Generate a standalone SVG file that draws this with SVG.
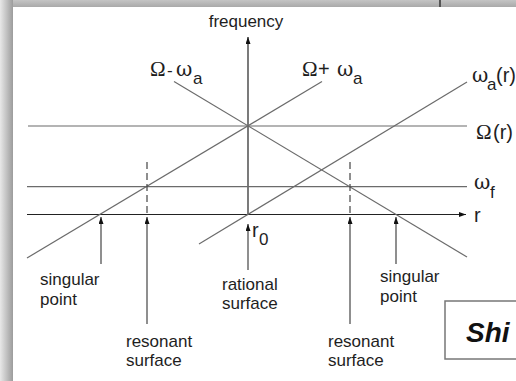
<svg xmlns="http://www.w3.org/2000/svg" width="516" height="381" viewBox="0 0 516 381">
  <defs>
    <linearGradient id="gLeft" x1="0" y1="0" x2="1" y2="0">
      <stop offset="0" stop-color="#e8e8e8"/>
      <stop offset="1" stop-color="#9c9c9c"/>
    </linearGradient>
    <linearGradient id="gTop" x1="0" y1="0" x2="0" y2="1">
      <stop offset="0" stop-color="#c4c4c4"/>
      <stop offset="1" stop-color="#a9a9a9"/>
    </linearGradient>
    <marker id="ah" markerUnits="userSpaceOnUse" markerWidth="8" markerHeight="6" refX="7" refY="2.5" orient="auto">
      <path d="M0,0 L7,2.5 L0,5 z" fill="#111"/>
    </marker>
    <style>
      .ln { stroke: #6b6b6b; stroke-width: 1.2; fill: none; }
      .ax { stroke: #222; stroke-width: 1.2; fill: none; }
      .ds { stroke: #444; stroke-width: 1.2; fill: none; stroke-dasharray: 7 4; }
      .ar { stroke: #333; stroke-width: 1.1; fill: none; marker-end: url(#ah); }
      .t { font-family: "Liberation Sans", Arial, sans-serif; font-size: 17px; fill: #1e1e1e; }
      .G { font-family: "Liberation Serif", "Times New Roman", serif; font-size: 21px; fill: #1e1e1e; }
      .w { font-family: "DejaVu Serif", "Liberation Serif", serif; font-size: 20px; fill: #1e1e1e; }
      .m { font-family: "Liberation Sans", Arial, sans-serif; font-size: 20px; fill: #1e1e1e; }
      .s { font-family: "Liberation Sans", Arial, sans-serif; font-size: 17px; fill: #1e1e1e; }
    </style>
  </defs>

  <!-- page background and frame shadows -->
  <rect x="0" y="0" width="516" height="381" fill="#ffffff"/>
  <rect x="0" y="0" width="516" height="7" fill="url(#gTop)"/>
  <rect x="0" y="0" width="13" height="381" fill="url(#gLeft)"/>
  <line x1="440" y1="0" x2="440" y2="7" stroke="#555" stroke-width="2"/>

  <g id="connectors">
    <!-- frequency axis -->
    <line class="ax" x1="248" y1="214.5" x2="248" y2="37" marker-end="url(#ah)"/>
    <!-- r axis -->
    <line class="ax" x1="27" y1="214.5" x2="466" y2="214.5" marker-end="url(#ah)"/>
    <!-- Omega(r) -->
    <line class="ln" x1="28" y1="126" x2="467" y2="126"/>
    <!-- omega_f -->
    <line class="ln" x1="27" y1="186.7" x2="467" y2="186.7"/>
    <!-- Omega - omega_a -->
    <line class="ln" x1="174" y1="81.5" x2="467" y2="257"/>
    <!-- Omega + omega_a -->
    <line class="ln" x1="322" y1="81.5" x2="27" y2="258"/>
    <!-- omega_a(r) -->
    <line class="ln" x1="199" y1="244" x2="467" y2="82"/>
    <!-- dashed resonances -->
    <line class="ds" x1="147" y1="162" x2="147" y2="214"/>
    <line class="ds" x1="350" y1="162" x2="350" y2="214"/>
    <!-- pointer arrows -->
    <line class="ar" x1="101" y1="264" x2="101" y2="217"/>
    <line class="ar" x1="147" y1="324" x2="147" y2="217"/>
    <line class="ar" x1="248" y1="270" x2="248" y2="224"/>
    <line class="ar" x1="350" y1="324" x2="350" y2="217"/>
    <line class="ar" x1="396" y1="264" x2="396" y2="217"/>
  </g>

  <g id="label-frequency"><text class="t" x="246" y="27" text-anchor="middle">frequency</text></g>

  <g id="label-omega-minus">
    <text x="150" y="76"><tspan class="G">Ω</tspan><tspan class="t" x="167">-</tspan><tspan class="w" x="176">ω</tspan><tspan class="s" x="193" y="84">a</tspan></text>
  </g>
  <g id="label-omega-plus">
    <text x="302" y="76"><tspan class="G">Ω</tspan><tspan class="m" x="318">+</tspan><tspan class="w" x="337">ω</tspan><tspan class="s" x="353" y="84">a</tspan></text>
  </g>
  <g id="label-omega-a-r">
    <text x="472" y="82"><tspan class="w">ω</tspan><tspan class="s" x="487" y="90">a</tspan><tspan class="m" x="496" y="82" font-size="18">(r)</tspan></text>
  </g>
  <g id="label-Omega-r">
    <text x="476" y="139"><tspan class="G">Ω</tspan><tspan class="m" x="493">(r)</tspan></text>
  </g>
  <g id="label-omega-f">
    <text x="474" y="189"><tspan class="w">ω</tspan><tspan class="s" x="490" y="198">f</tspan></text>
  </g>
  <g id="label-r"><text class="m" x="474" y="222">r</text></g>
  <g id="label-r0">
    <text x="252" y="237"><tspan class="m">r</tspan><tspan class="s" x="259" y="245">0</tspan></text>
  </g>

  <g id="label-singular-left">
    <text class="t" x="40" y="285">singular</text>
    <text class="t" x="40" y="305">point</text>
  </g>
  <g id="label-resonant-left">
    <text class="t" x="126" y="347">resonant</text>
    <text class="t" x="126" y="366">surface</text>
  </g>
  <g id="label-rational">
    <text class="t" x="222" y="290">rational</text>
    <text class="t" x="222" y="309">surface</text>
  </g>
  <g id="label-resonant-right">
    <text class="t" x="328" y="347">resonant</text>
    <text class="t" x="328" y="366">surface</text>
  </g>
  <g id="label-singular-right">
    <text class="t" x="380" y="282">singular</text>
    <text class="t" x="380" y="302">point</text>
  </g>

  <g id="box-shi">
    <rect x="445" y="301" width="80" height="58" fill="#ffffff" stroke="#777" stroke-width="1.5"/>
    <text x="466" y="342" font-family="Liberation Sans, Arial, sans-serif" font-size="28" font-weight="bold" font-style="italic" fill="#111">Shi</text>
  </g>
</svg>
